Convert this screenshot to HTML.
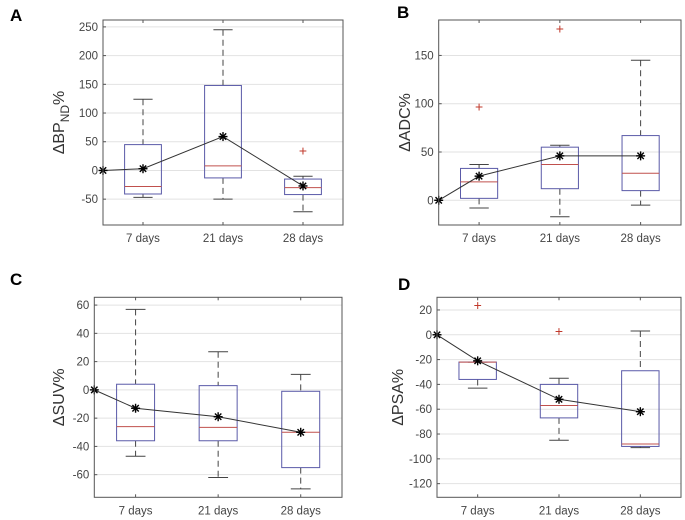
<!DOCTYPE html>
<html><head><meta charset="utf-8">
<style>
body{margin:0;background:#fff;}
svg{display:block;font-family:"Liberation Sans",sans-serif;}
</style></head>
<body>
<svg id="chart" width="685" height="520" viewBox="0 0 685 520"></svg>
<script>
const categories = ["7 days","21 days","28 days"];
// Panel A: ΔBP_ND%
const aWhiskerHigh=[124,245,-10], aQ3=[45,148,-15], aMedian=[-28,8,-30], aQ1=[-41,-13,-42], aWhiskerLow=[-47,-50,-72], aMean=[3,59,-27];
const aOutliers=[[],[],[35]];
const aTicks=[-50,0,50,100,150,200,250];
// Panel B: ΔADC%
const bWhiskerHigh=[37,57,145], bQ3=[33,55,67], bMedian=[19,37,28], bQ1=[2,12,10], bWhiskerLow=[-8,-17,-5], bMean=[25,46,46];
const bOutliers=[[97],[178],[]];
const bTicks=[0,50,100,150];
// Panel C: ΔSUV%
const cWhiskerHigh=[57,27,11], cQ3=[4,3,-1], cMedian=[-26,-26.5,-30], cQ1=[-36,-36,-55], cWhiskerLow=[-47,-62,-70], cMean=[-13,-19,-30];
const cOutliers=[[],[],[]];
const cTicks=[-60,-40,-20,0,20,40,60];
// Panel D: ΔPSA%
const dWhiskerHigh=[-22,-35,3], dQ3=[-22,-40,-29], dMedian=[-22,-57,-88], dQ1=[-36,-67,-90], dWhiskerLow=[-43,-85,-91], dMean=[-21,-52,-62];
const dOutliers=[[24],[3],[]];
const dTicks=[-120,-100,-80,-60,-40,-20,0,20];

const NS="http://www.w3.org/2000/svg";
const svg=document.getElementById('chart');
function el(tag,attrs,parent,txt){const e=document.createElementNS(NS,tag);for(const k in attrs)e.setAttribute(k,attrs[k]);if(txt!==undefined)e.textContent=txt;(parent||svg).appendChild(e);return e;}

function panel(cfg){
  const g=el('g',{});
  
  
  const {L,R,T,B,ymin,ymax}=cfg;
  const x=v=>L+(v-0.5)*(R-L)/3;
  const y=v=>B-(v-ymin)*(B-T)/(ymax-ymin);
  el('rect',{x:L,y:T,width:R-L,height:B-T,fill:'#fff'},g);
  cfg.ticks.forEach(t=>{
    const gl=el('line',{x1:L,x2:R,y1:y(t),y2:y(t),stroke:'#e2e2e2','stroke-width':1},g);
    
    
    el('line',{x1:L,x2:L+3,y1:y(t),y2:y(t),stroke:'#555'},g);
    const tl=el('text',{x:L-5,y:y(t)+4,'text-anchor':'end','font-size':11.5,fill:'#444'},g,String(t));
    
    
  });
  categories.forEach((c,i)=>{
    el('line',{x1:x(i+1),x2:x(i+1),y1:T,y2:T+3,stroke:'#555'},g);
    el('line',{x1:x(i+1),x2:x(i+1),y1:B,y2:B-3,stroke:'#555'},g);
    const xl=el('text',{x:x(i+1),y:B+17,'text-anchor':'middle','font-size':11.5,fill:'#444'},g,c);
    
    
  });
  const hw=(R-L)/3*0.23, cw=(R-L)/3*0.12;
  categories.forEach((c,i)=>{
    const cx=x(i+1);
    const bg=el('g',{},g);
    
    
    el('line',{x1:cx,x2:cx,y1:y(cfg.wh[i]),y2:y(cfg.q3[i]),stroke:'#444','stroke-dasharray':'6,4'},bg);
    el('line',{x1:cx,x2:cx,y1:y(cfg.q1[i]),y2:y(cfg.wl[i]),stroke:'#444','stroke-dasharray':'6,4'},bg);
    el('line',{x1:cx-cw,x2:cx+cw,y1:y(cfg.wh[i]),y2:y(cfg.wh[i]),stroke:'#444'},bg);
    el('line',{x1:cx-cw,x2:cx+cw,y1:y(cfg.wl[i]),y2:y(cfg.wl[i]),stroke:'#444'},bg);
    el('rect',{x:cx-hw,y:y(cfg.q3[i]),width:2*hw,height:y(cfg.q1[i])-y(cfg.q3[i]),fill:'none',stroke:'#5a5aa8'},bg);
    el('line',{x1:cx-hw,x2:cx+hw,y1:y(cfg.med[i]),y2:y(cfg.med[i]),stroke:'#c0504d'},bg);
    cfg.out[i].forEach(o=>{
      const p=el('text',{x:cx,y:y(o)+5,'text-anchor':'middle','font-size':14,fill:'#c0392b'},bg,'+');
      
      
    });
  });
  const pts=[[0.5,0]].concat(cfg.mean.map((m,i)=>[i+1,m]));
  const ml=el('polyline',{points:pts.map(p=>x(p[0])+','+y(p[1])).join(' '),fill:'none',stroke:'#333','stroke-width':1},g);
  
  
  pts.forEach(p=>{
    const px=x(p[0]), py=y(p[1]), r=4.5, d=3.2;
    const s=el('g',{stroke:'#000','stroke-width':1.4},g);
    
    
    el('line',{x1:px-r,x2:px+r,y1:py,y2:py},s);
    el('line',{x1:px,x2:px,y1:py-r,y2:py+r},s);
    el('line',{x1:px-d,x2:px+d,y1:py-d,y2:py+d},s);
    el('line',{x1:px-d,x2:px+d,y1:py+d,y2:py-d},s);
  });
  el('rect',{x:L,y:T,width:R-L,height:B-T,fill:'none',stroke:'#555'},g);
  const yt=el('text',{transform:`translate(${cfg.lx},${(T+B)/2}) rotate(-90)`,'text-anchor':'middle','font-size':16,fill:'#333'},g);
  
  
  if(cfg.sub){
    el('tspan',{},yt,'\u0394BP');
    el('tspan',{'font-size':12,dy:5},yt,'ND');
    el('tspan',{dy:-5},yt,'%');
  } else yt.textContent=cfg.label;
  const pl=el('text',{x:cfg.px,y:cfg.py,'font-size':17,'font-weight':'bold',fill:'#000'},g,cfg.letter);
  
  
}

panel({letter:'A',L:103,R:343,T:20,B:225,ymin:-95,ymax:262,ticks:aTicks,wh:aWhiskerHigh,q3:aQ3,med:aMedian,q1:aQ1,wl:aWhiskerLow,mean:aMean,out:aOutliers,lx:64,sub:true,px:10,py:21});
panel({letter:'B',L:438.7,R:681,T:20,B:225,ymin:-25.6,ymax:186.7,ticks:bTicks,wh:bWhiskerHigh,q3:bQ3,med:bMedian,q1:bQ1,wl:bWhiskerLow,mean:bMean,out:bOutliers,lx:410,label:'\u0394ADC%',px:397,py:18});
panel({letter:'C',L:94.3,R:342,T:297.3,B:497.3,ymin:-76,ymax:65.5,ticks:cTicks,wh:cWhiskerHigh,q3:cQ3,med:cMedian,q1:cQ1,wl:cWhiskerLow,mean:cMean,out:cOutliers,lx:64,label:'\u0394SUV%',px:10,py:285});
panel({letter:'D',L:437,R:681,T:297.3,B:497.3,ymin:-131,ymax:30.2,ticks:dTicks,wh:dWhiskerHigh,q3:dQ3,med:dMedian,q1:dQ1,wl:dWhiskerLow,mean:dMean,out:dOutliers,lx:403,label:'\u0394PSA%',px:398,py:290});
</script>
</body></html>
